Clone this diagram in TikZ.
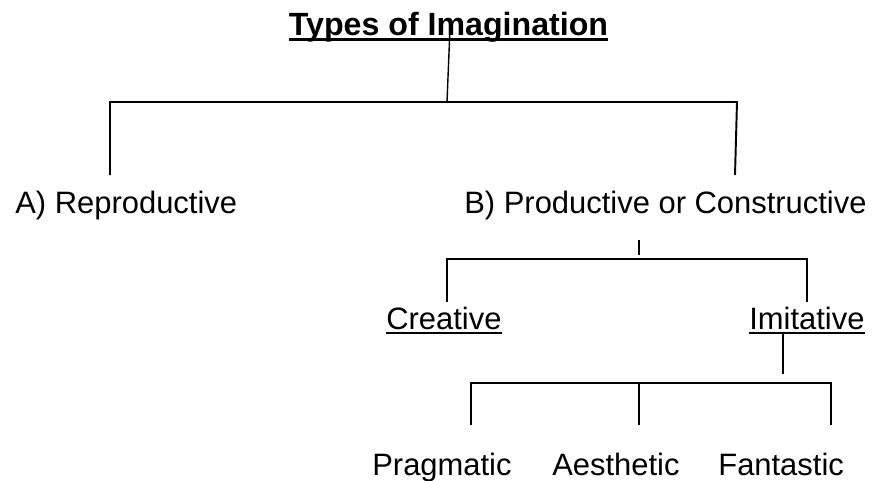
\documentclass[tikz,border=0pt]{standalone}
\usepackage{fontspec}
\setmainfont{Liberation Sans}
\usepackage{tikz}
\usetikzlibrary{positioning}

\begin{document}
\begin{tikzpicture}[font=\fontsize{17.6}{21}\selectfont,
    lbl/.style={inner sep=0pt,anchor=base west},
    ln/.style={line width=1.1pt},
    ul/.style={line width=1.1pt},
    ulbold/.style={line width=1.7pt}]
    \useasboundingbox (0,0) rectangle (17.66,-9.6);

    \node[inner sep=0pt,anchor=base,font=\fontsize{18.3}{22}\selectfont\bfseries] (title) at (8.97,-0.70) {Types of Imagination};
    \draw[ulbold] ([yshift=-2.3pt]title.base west) -- ([yshift=-2.3pt]title.base east);

    \node[lbl] (repro) at (0.3,-4.26) {A) Reproductive};
    \node[lbl] (prod) at (9.28,-4.26) {B) Productive or Constructive};

    % first level
    \coordinate (t0) at (9.0,-0.56);
    \coordinate (t1) at (8.94,-2.04);
    \coordinate (a0) at (2.2,-3.5);
    \coordinate (b1) at (14.74,-2.04);
    \coordinate (b0) at (14.70,-3.5);
    \draw[line width=0.8pt] (t0) -- (t1);
    \draw[ln] (a0) |- (b1) -- (b0);

    \node[lbl] (crea) at (7.72,-6.58) {Creative};
    \node[lbl] (imit) at (14.98,-6.58) {Imitative};
    \draw[ul] ([yshift=-2.3pt]crea.base west) -- ([yshift=-2.3pt]crea.base east);
    \draw[ul] ([yshift=-2.3pt]imit.base west) -- ([yshift=-2.3pt]imit.base east);

    % second level
    \coordinate (p0) at (12.78,-4.8);
    \coordinate (p1) at (12.78,-5.1);
    \coordinate (c0) at (8.94,-6.04);
    \coordinate (i0) at (16.14,-6.04);
    \draw[ln] (p0) -- (p1);
    \draw[ln] (c0) |- (16.14,-5.18) -- (i0);

    \node[lbl] (prag) at (7.44,-9.5) {Pragmatic};
    \node[lbl] (aest) at (11.04,-9.5) {Aesthetic};
    \node[lbl] (fant) at (14.36,-9.5) {Fantastic};

    % third level
    \coordinate (m0) at (15.66,-6.66);
    \coordinate (m1) at (15.66,-7.48);
    \coordinate (r0) at (9.42,-8.5);
    \coordinate (r1) at (12.78,-8.5);
    \coordinate (r2) at (16.62,-8.5);
    \draw[ln] (m0) -- (m1);
    \draw[ln] (r0) |- (r2 |- 0,-7.66) -- (r2);
    \draw[ln] (r1) -- (r1 |- 0,-7.66);
\end{tikzpicture}
\end{document}
